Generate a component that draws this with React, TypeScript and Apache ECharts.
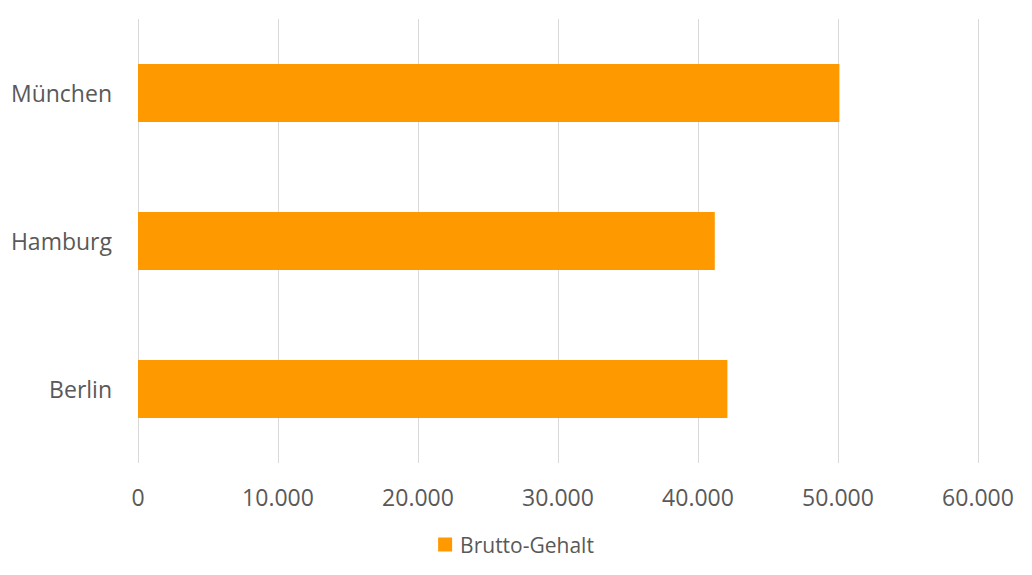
import React, { useEffect, useRef } from "react";
import * as echarts from "echarts";

const categories = ["Berlin", "Hamburg", "München"];
const salaries = [42100, 41200, 50100];
const seriesName = "Brutto-Gehalt";
const xMin = 0;
const xMax = 60000;
const xInterval = 10000;

const fmt = (v: number) => String(Math.round(v)).replace(/\B(?=(\d{3})+(?!\d))/g, ".");

export default function App() {
  const ref = useRef<HTMLDivElement>(null);
  useEffect(() => {
    document.body.style.margin = "0";
    if (!ref.current) return;
    const chart = echarts.init(ref.current, null, { renderer: "svg" });
    const font = "'Open Sans', 'Noto Sans', sans-serif";
    chart.setOption({
      animation: false,
      backgroundColor: "#ffffff",
      grid: { left: 138, right: 54, top: 19, bottom: 112, containLabel: false },
      legend: {
        data: [seriesName],
        left: "center",
        top: 529,
        icon: "rect",
        itemWidth: 14,
        itemHeight: 14,
        textStyle: { color: "#595959", fontSize: 21, fontFamily: font, padding: [0, 0, 0, 3] },
      },
      xAxis: {
        type: "value",
        min: xMin,
        max: xMax,
        interval: xInterval,
        axisLine: { show: false },
        axisTick: { show: false },
        splitLine: { show: true, lineStyle: { color: "#d9d9d9", width: 1 } },
        axisLabel: {
          color: "#595959",
          fontSize: 23,
          fontFamily: font,
          margin: 22,
          formatter: (v: number) => fmt(v),
        },
      },
      yAxis: {
        type: "category",
        data: categories,
        axisLine: { show: false },
        axisTick: { show: false },
        splitLine: { show: false },
        axisLabel: { color: "#595959", fontSize: 23, fontFamily: font, margin: 26 },
      },
      series: [
        {
          name: seriesName,
          type: "bar",
          data: salaries,
          barWidth: 58,
          itemStyle: { color: "#FF9900" },
        },
      ],
    });
    return () => chart.dispose();
  }, []);
  return <div ref={ref} style={{ width: 1032, height: 575 }} />;
}
